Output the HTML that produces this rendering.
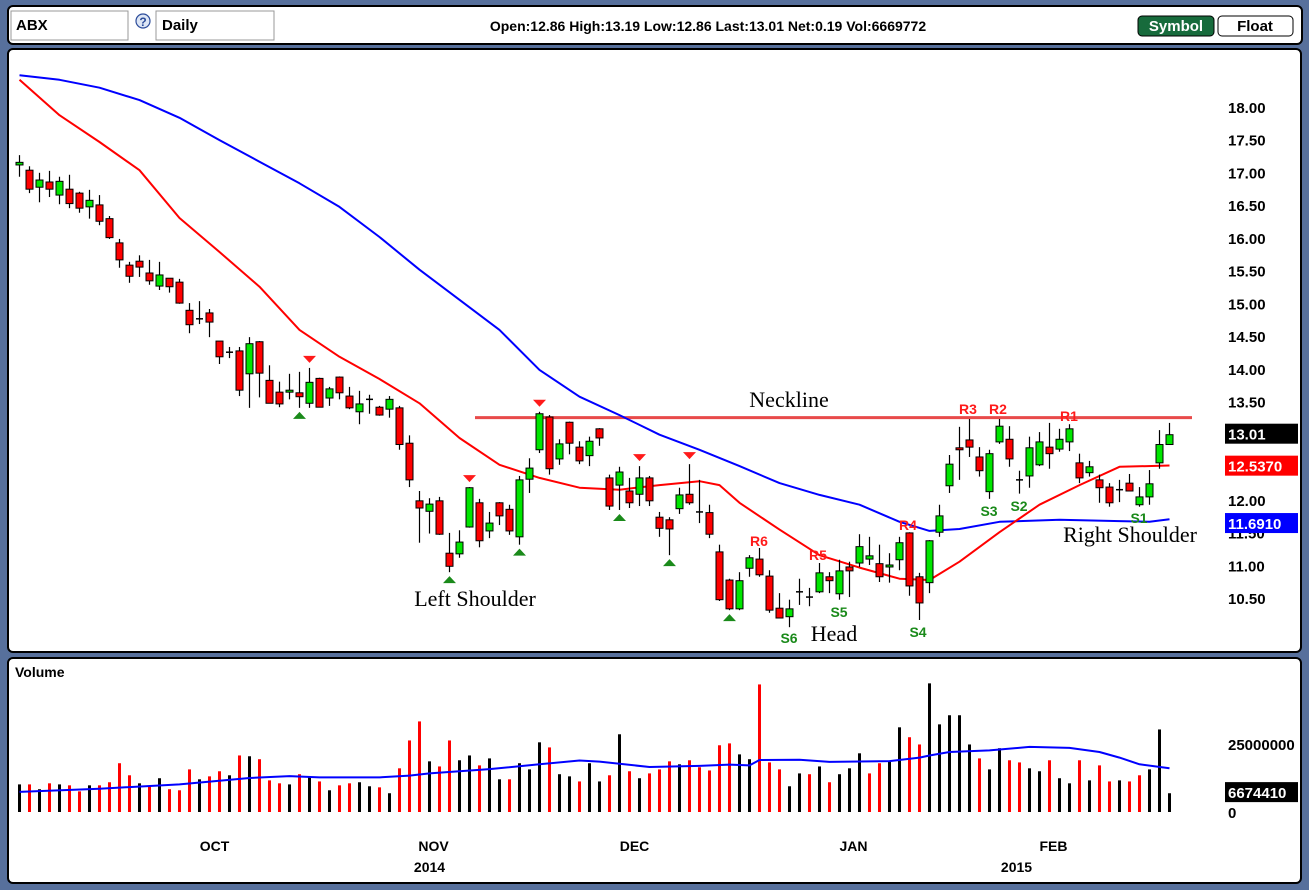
<!DOCTYPE html>
<html><head><meta charset="utf-8"><title>ABX Daily</title>
<style>
html,body{margin:0;padding:0;background:#57709c;}
body{width:1309px;height:890px;overflow:hidden;font-family:"Liberation Sans",sans-serif;}
svg{display:block}
.ax{font-family:"Liberation Sans",sans-serif;font-weight:bold;font-size:15px;fill:#000}
.ann{font-family:"Liberation Serif",serif;font-size:22px;fill:#000}
.lr{font-family:"Liberation Sans",sans-serif;font-weight:bold;font-size:14px;fill:#ff1a1a}
.lg{font-family:"Liberation Sans",sans-serif;font-weight:bold;font-size:14px;fill:#1a8a1a}
</style></head>
<body>
<svg id="chart" width="1309" height="890" viewBox="0 0 1309 890" xmlns="http://www.w3.org/2000/svg">
  <rect x="8" y="6" width="1294" height="38" rx="5" fill="#fff" stroke="#000" stroke-width="2"/>
  <rect x="11" y="11" width="117" height="29" fill="#fff" stroke="#999"/>
  <text x="16" y="30" font-size="15" font-weight="bold" font-family="Liberation Sans, sans-serif">ABX</text>
  <g>
    <circle cx="143" cy="21" r="7" fill="#dde6f5" stroke="#2c4c9a" stroke-width="1.2"/>
    <text x="143" y="26" font-size="12" font-weight="bold" text-anchor="middle" fill="#2c4c9a" font-family="Liberation Sans, sans-serif">?</text>
  </g>
  <rect x="156" y="11" width="118" height="29" fill="#fff" stroke="#999"/>
  <text x="162" y="30" font-size="15" font-weight="bold" font-family="Liberation Sans, sans-serif">Daily</text>
  <text x="708" y="31" font-size="14" font-weight="bold" text-anchor="middle" font-family="Liberation Sans, sans-serif">Open:12.86  High:13.19  Low:12.86  Last:13.01  Net:0.19  Vol:6669772</text>
  <g>
    <rect x="1138" y="16" width="76" height="20" rx="4" fill="#176b3c" stroke="#000"/>
    <text x="1176" y="31" font-size="15" font-weight="bold" text-anchor="middle" fill="#fff" font-family="Liberation Sans, sans-serif">Symbol</text>
  </g>
  <g>
    <rect x="1218" y="16" width="75" height="20" rx="4" fill="#fff" stroke="#000"/>
    <text x="1255" y="31" font-size="15" font-weight="bold" text-anchor="middle" fill="#000" font-family="Liberation Sans, sans-serif">Float</text>
  </g>
  <rect x="8" y="49" width="1293" height="603" rx="5" fill="#fff" stroke="#000" stroke-width="2"/>
  <rect x="8" y="658" width="1293" height="225" rx="5" fill="#fff" stroke="#000" stroke-width="2"/>
  <text x="15" y="677" font-size="14" font-weight="bold" font-family="Liberation Sans, sans-serif">Volume</text>
  <g id="layer"></g>
</svg>
<script>
const opens=[17.13,17.05,16.79,16.87,16.67,16.76,16.70,16.49,16.52,16.31,15.94,15.60,15.66,15.48,15.28,15.40,15.34,14.91,14.79,14.87,14.44,14.28,14.29,13.94,14.43,13.84,13.66,13.66,13.65,13.49,13.87,13.57,13.89,13.60,13.36,13.56,13.43,13.40,13.42,12.88,12.00,11.84,12.00,11.20,11.19,11.60,11.97,11.54,11.97,11.87,11.45,12.33,12.78,13.28,12.64,13.20,12.82,12.69,13.10,12.35,12.24,12.15,12.10,12.35,11.75,11.71,11.88,12.10,11.84,11.82,11.22,10.79,10.35,10.97,11.11,10.85,10.36,10.23,10.62,10.54,10.61,10.84,10.58,10.99,11.05,11.11,11.04,10.99,11.10,11.51,10.84,10.75,11.52,12.23,12.81,12.93,12.67,12.14,12.90,12.94,12.33,12.38,12.55,12.82,12.79,12.90,12.58,12.43,12.32,12.21,12.18,12.27,11.94,12.06,12.58,12.86];
const highs=[17.28,17.11,17.01,17.04,16.95,16.98,16.72,16.75,16.67,16.35,16.00,15.65,15.75,15.68,15.65,15.40,15.39,15.02,15.05,14.93,14.44,14.35,14.35,14.50,14.44,14.07,13.82,13.94,13.97,14.03,13.88,13.74,13.90,13.74,13.68,13.62,13.45,13.60,13.45,13.00,12.15,12.04,12.06,11.51,11.55,12.21,12.03,11.83,11.98,11.94,12.38,12.65,13.36,13.31,12.94,13.21,12.91,12.98,13.11,12.40,12.52,12.35,12.53,12.38,11.83,11.75,12.20,12.56,12.32,11.94,11.33,10.81,10.91,11.17,11.28,10.94,10.59,10.49,10.81,10.67,11.05,10.91,11.10,11.07,11.49,11.45,11.33,11.20,11.45,11.52,10.90,11.40,11.94,12.70,13.13,13.25,12.82,12.78,13.25,13.14,12.46,12.98,13.05,13.19,13.10,13.17,12.72,12.61,12.40,12.27,12.32,12.41,12.21,12.47,13.08,13.19];
const lows=[16.95,16.70,16.56,16.64,16.53,16.47,16.40,16.31,16.21,16.00,15.56,15.33,15.42,15.30,15.22,15.18,15.01,14.56,14.70,14.50,14.09,14.18,13.60,13.42,13.58,13.49,13.43,13.55,13.42,13.42,13.43,13.45,13.55,13.40,13.17,13.33,13.30,13.27,12.78,12.21,11.36,11.50,11.48,10.91,11.13,11.59,11.29,11.43,11.63,11.48,11.33,12.12,12.73,12.40,12.55,12.71,12.56,12.53,12.84,11.86,11.86,11.89,11.92,11.92,11.45,11.17,11.80,11.94,11.66,11.43,10.47,10.33,10.33,10.84,10.84,10.29,10.21,10.07,10.41,10.39,10.59,10.59,10.49,10.53,10.99,11.02,10.76,10.75,10.94,10.55,10.18,10.59,11.45,12.12,12.32,12.67,12.37,12.03,12.87,12.52,12.11,12.20,12.53,12.49,12.75,12.76,12.27,12.37,11.97,11.91,11.98,12.15,11.91,11.94,12.49,12.86];
const closes=[17.17,16.76,16.90,16.76,16.88,16.54,16.47,16.59,16.27,16.02,15.68,15.43,15.57,15.36,15.45,15.27,15.02,14.69,14.78,14.73,14.20,14.27,13.69,14.40,13.95,13.49,13.48,13.69,13.59,13.81,13.43,13.71,13.65,13.42,13.48,13.55,13.31,13.55,12.86,12.32,11.89,11.95,11.49,11.00,11.37,12.20,11.39,11.66,11.77,11.54,12.32,12.50,13.33,12.49,12.87,12.88,12.61,12.91,12.96,11.92,12.44,11.97,12.35,12.00,11.58,11.57,12.09,11.97,11.83,11.49,10.49,10.35,10.78,11.13,10.87,10.33,10.21,10.35,10.61,10.53,10.90,10.78,10.93,10.93,11.30,11.16,10.84,11.02,11.36,10.70,10.44,11.39,11.77,12.56,12.78,12.82,12.46,12.72,13.14,12.64,12.32,12.81,12.90,12.72,12.94,13.10,12.35,12.52,12.20,11.97,12.17,12.15,12.06,12.26,12.86,13.01];
const volumes=[10.3,10.3,8.5,10.7,10.3,9.95,7.7,9.95,9.95,11.1,18.2,13.7,10.7,9.6,12.6,8.5,8.1,15.9,12.2,13.3,15.2,13.7,21.1,20.8,19.7,11.8,10.7,10.3,14.1,12.9,11.4,8.1,9.95,10.7,11.1,9.6,9.2,7.0,16.3,26.7,33.8,18.9,17.0,26.7,19.3,21.1,17.4,20.0,12.2,12.2,18.2,15.9,26.0,24.1,14.1,13.3,11.4,18.2,11.4,13.7,29.0,15.2,12.6,14.4,15.9,18.9,17.8,19.3,16.7,15.5,24.9,25.6,21.5,19.7,47.6,18.5,15.9,9.6,14.4,14.1,17.0,11.1,14.1,16.3,21.9,14.4,18.2,18.9,31.6,27.9,25.2,48.0,32.7,36.1,36.1,25.2,20.0,15.9,23.8,19.3,18.5,16.3,15.2,19.3,12.6,10.7,19.3,11.8,17.4,11.4,11.8,11.4,13.7,15.9,30.8,7.0];
const maIdx=[0,4,8,12,16,20,24,28,32,36,40,44,48,52,56,60,64,68,70,72,76,80,84,88,91,94,98,102,106,110,115];
const ma20=[18.43,17.89,17.48,17.05,16.32,15.80,15.27,14.61,14.20,13.86,13.49,12.96,12.55,12.35,12.20,12.17,12.24,12.30,12.24,11.97,11.56,11.17,10.98,10.81,10.79,11.07,11.52,11.94,12.24,12.52,12.54];
const ma50Idx=[0,4,8,12,16,20,24,28,32,36,40,44,48,52,56,60,64,68,72,76,80,84,88,91,94,98,104,110,113,115];
const ma50=[18.50,18.43,18.31,18.12,17.85,17.51,17.18,16.85,16.49,16.03,15.53,15.07,14.61,14.00,13.59,13.31,13.01,12.78,12.53,12.27,12.09,11.94,11.68,11.54,11.57,11.68,11.71,11.69,11.68,11.72];
const volMaIdx=[0,8,16,23,27,30,36,39,41,47,52,56,58,63,68,71,73,74,78,81,87,90,91,93,97,101,105,108,110,112,115];
const volMa=[7.5,8.7,10.3,12.7,13.4,12.9,12.9,13.6,14.4,16.0,17.8,19.2,18.8,16.8,17.2,17.7,17.4,19.4,19.5,18.7,19.0,20.3,21.1,22.4,23.0,24.3,23.9,22.4,20.3,17.8,16.3];
const priceTicks=[18.00,17.50,17.00,16.50,16.00,15.50,15.00,14.50,14.00,13.50,13.00,12.50,12.00,11.50,11.00,10.50];
const monthLabels=["OCT","NOV","DEC","JAN","FEB"];
const monthIdx=[19.5,41.4,61.5,83.4,103.4];
const yearLabels=["2014","2015"];
const yearIdx=[41,99.7];
const neckline=13.27;
const lastClose=13.01, lastMa20=12.5370, lastMa50=11.6910, lastVol=6674410;

const NS="http://www.w3.org/2000/svg";
const layer=document.getElementById('layer');
const xS=i=>19.5+10*i;
const yS=p=>108+(18-p)*65.47;
const vS=v=>812-v*2.68;
function mk(tag,attrs,parent){const e=document.createElementNS(NS,tag);for(const k in attrs)e.setAttribute(k,attrs[k]);(parent||layer).appendChild(e);return e;}

priceTicks.forEach((t,k)=>{
  const el=mk('text',{x:1228,y:yS(t)+5,class:'ax'});el.textContent=t.toFixed(2);
  
  
});

const nl=mk('line',{x1:475,x2:1192,y1:yS(neckline),y2:yS(neckline),stroke:'#e84a4a','stroke-width':3});



function poly(idx,vals,fy,color,w,name){
  const pts=idx.map((i,k)=>xS(i).toFixed(1)+','+fy(vals[k]).toFixed(1)).join(' ');
  const el=mk('polyline',{points:pts,fill:'none',stroke:color,'stroke-width':w,'stroke-linejoin':'round'});
  
  
}
poly(ma50Idx,ma50,yS,'#0000ff',2,'ma50-line');
poly(maIdx,ma20,yS,'#ff0000',2,'ma20-line');

for(let i=0;i<opens.length;i++){
  const g=mk('g',{});
  
  
  const x=xS(i);
  mk('line',{x1:x,x2:x,y1:yS(highs[i]),y2:yS(lows[i]),stroke:'#000','stroke-width':1.2},g);
  const o=opens[i],c=closes[i];
  if(Math.abs(o-c)<0.015){
    mk('line',{x1:x-3.5,x2:x+3.5,y1:yS(c),y2:yS(c),stroke:'#000','stroke-width':1.5},g);
  }else{
    const top=yS(Math.max(o,c)),bot=yS(Math.min(o,c));
    mk('rect',{x:x-3.5,y:top,width:7,height:Math.max(bot-top,2),fill:c>o?'#00e600':'#ff0000',stroke:'#000','stroke-width':1},g);
  }
}

const redTri=[29,45,52,62,67], greenTri=[28,43,50,60,65,71];
redTri.forEach(i=>{const x=xS(i),y=yS(highs[i])-5;
  const t=mk('polygon',{points:`${x-6.5},${y-7} ${x+6.5},${y-7} ${x},${y}`,fill:'#ff1a1a'});
  
  });
greenTri.forEach(i=>{const x=xS(i),y=yS(lows[i])+4;
  const t=mk('polygon',{points:`${x-6.5},${y+7} ${x+6.5},${y+7} ${x},${y}`,fill:'#1a8a1a'});
  
  });

const anns=[["Neckline",789,407,'ann'],["Left Shoulder",475,606,'ann'],["Head",834,641,'ann'],["Right Shoulder",1130,542,'ann'],
 ["R6",759,546,'lr'],["S6",789,643,'lg'],["R5",818,560,'lr'],["S5",839,617,'lg'],["R4",908,530,'lr'],["S4",918,637,'lg'],
 ["R3",968,414,'lr'],["R2",998,414,'lr'],["S3",989,516,'lg'],["S2",1019,511,'lg'],["R1",1069,421,'lr'],["S1",1139,523,'lg']];
anns.forEach(a=>{const t=mk('text',{x:a[1],y:a[2],class:a[3],'text-anchor':'middle'});t.textContent=a[0];
  
  });

function vbox(yc,txt,bg,name){
  const g=mk('g',{});
  
  
  mk('rect',{x:1225,y:yc-10,width:73,height:20,fill:bg},g);
  const t=mk('text',{x:1228,y:yc+6,class:'ax'},g);t.style.fill='#fff';t.textContent=txt;
}
vbox(yS(lastClose)-1,lastClose.toFixed(2),'#000','last-price-box');
vbox(yS(lastMa20),lastMa20.toFixed(4),'#ff0000','ma20-value-box');
vbox(yS(lastMa50)+2,lastMa50.toFixed(4),'#0000ff','ma50-value-box');

for(let i=0;i<volumes.length;i++){
  const down=i>0&&closes[i]<closes[i-1];
  const b=mk('rect',{x:xS(i)-1.5,y:vS(volumes[i]),width:3,height:812-vS(volumes[i]),fill:down?'#ff0000':'#000'});
  
  
}
poly(volMaIdx,volMa,vS,'#0000ff',2,'volume-ma-line');
const vt=mk('text',{x:1228,y:vS(25)+5,class:'ax'});vt.textContent='25000000';


const vz=mk('text',{x:1228,y:818,class:'ax'});vz.textContent='0';


const vb=mk('g',{});


mk('rect',{x:1225,y:vS(lastVol/1e6)-12,width:73,height:20,fill:'#000'},vb);
const vbt=mk('text',{x:1228,y:vS(lastVol/1e6)+4,class:'ax'},vb);vbt.style.fill='#fff';vbt.textContent=String(lastVol);

monthLabels.forEach((m,k)=>{const t=mk('text',{x:xS(monthIdx[k]),y:851,class:'ax','text-anchor':'middle'});t.style.fontSize='14px';t.textContent=m;
  
  });
yearLabels.forEach((m,k)=>{const t=mk('text',{x:xS(yearIdx[k]),y:872,class:'ax','text-anchor':'middle'});t.style.fontSize='14px';t.textContent=m;
  
  });
</script>
</body></html>
